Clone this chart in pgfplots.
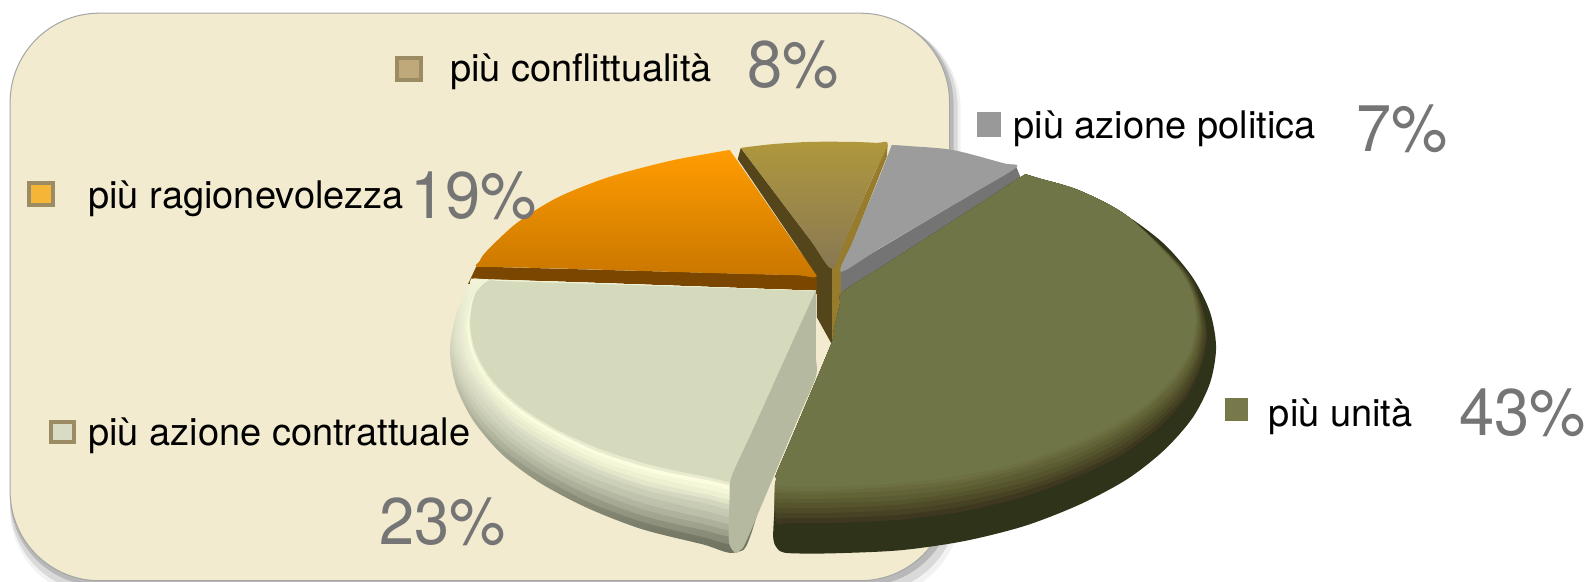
\documentclass[border=0pt]{standalone}
\usepackage{pgfplots}
\pgfplotsset{compat=1.18}
\usepackage{fontspec}
\setmainfont{TeX Gyre Heros}
\definecolor{panel}{HTML}{F2EBCF}
\definecolor{pct}{HTML}{757575}
\newcommand{\lab}[3]{\node[anchor=base west,inner sep=0pt,font=\fontsize{37.5}{37.5}\selectfont,text=black] at (axis cs:#1,#2) {#3};}
\newcommand{\pc}[3]{\node[anchor=base west,inner sep=0pt,xscale=.96,font=\fontsize{65}{65}\selectfont,text=pct] at (axis cs:#1,#2) {#3};}
\newcommand{\gl}[4]{\addplot[draw=none,smooth,fill={rgb,255:red,#1;green,#2;blue,#3}] coordinates {(1012,172)(1025,176)(1065,188)(1112,213) #4 (766,472)(766,468)(780,435)(820,340)(823,325)(829,300)(832,288)(877,259)(967,201)(999,180)(1012,172)};}
\newcommand{\pl}[4]{\addplot[draw=none,smooth,top color={rgb,255:red,242;green,244;blue,218},bottom color={rgb,255:red,#1;green,#2;blue,#3}] coordinates {(805,287) #4 (550,278)(805,287)};}
\newcommand{\plf}[4]{\addplot[draw=none,smooth,fill={rgb,255:red,#1;green,#2;blue,#3}] coordinates {(805,287) #4 (550,279)(805,287)};}
\begin{document}
\begin{tikzpicture}
\useasboundingbox (0,0) rectangle (1568pt,574pt);
\begin{axis}[hide axis,scale only axis,width=1568pt,height=574pt,xmin=0,xmax=1568,ymin=0,ymax=574,y dir=reverse,no markers]
% panel shadow and panel
\addplot[draw=none,fill=black!5,rounded corners=88pt] coordinates {(10,20)(948,20)(948,590)(10,590)} --cycle;
\addplot[draw=none,fill=black!15,rounded corners=88pt] coordinates {(10,18)(945,18)(945,585)(10,585)} --cycle;
\addplot[draw=none,fill=black!28,rounded corners=88pt] coordinates {(10,15)(941,15)(941,578)(10,578)} --cycle;
\addplot[draw={black!35},line width=1pt,fill=panel,rounded corners=88pt] coordinates {(10,13)(937,13)(937,573)(10,573)} --cycle;
% orange 19
\addplot[draw=none,fill={rgb,255:red,122;green,70;blue,0}] coordinates {(470,263)(806,272)(806,290)(462,280)} --cycle;
\addplot[draw=none,smooth,top color={rgb,255:red,255;green,156;blue,0},bottom color={rgb,255:red,200;green,118;blue,0}] coordinates {(720,148)(708,150)(660,159)(600,175)(550,195)(510,220)(480,248)(473,258)(470,263)(490,263.5)(554,265)(722,270)(785,271.5)(806,272)(785,242)(741,178)(720,148)};
% gold 8
\addplot[draw=none,fill={rgb,255:red,84;green,70;blue,26}] coordinates {(731,146)(821,265)(821,340)(806,313)(806,272)(728,157)} --cycle;
\addplot[draw=none,fill={rgb,255:red,150;green,124;blue,44}] coordinates {(876,142)(875,155)(830,268)(830,316)(821,340)(821,265)} --cycle;
\addplot[draw=none,smooth,top color={rgb,255:red,176;green,152;blue,60},bottom color={rgb,255:red,136;green,120;blue,84}] coordinates {(731,146)(742,144.5)(765,142)(800,140)(840,140)(865,141)(876,142)(862,173)(835,234)(821,265)(799,236)(753,175)(731,146)};
% grey 7
\addplot[draw=none,fill={rgb,255:red,116;green,116;blue,116}] coordinates {(1003,165)(1007,175)(830,300)(830,268)} --cycle;
\addplot[draw=none,smooth,fill={rgb,255:red,156;green,156;blue,156}] coordinates {(880,143)(895,144)(940,148)(990,161)(1003,165)(960,191)(873,242)(830,268)(842,237)(868,174)(880,143)};
% pale 23: rim bands from the outer edge inward
\pl{108}{111}{92}{(745,515)(726,545)(693,537)(633,522)(579,501)(532,476)(495,448)(467,415)(450,381)(444,346)(450,311)(463,283)(465,275)(480,275.5)}
\pl{132}{135}{115}{(745,506)(726,536)(694,530)(634,515)(580,495)(534,470)(496,443)(468,411)(452,377)(446,343)(452,308)(464,281)(476,276)}
\pl{154}{157}{136}{(745,498)(725,528)(694,523)(635,509)(582,489)(536,465)(498,438)(470,407)(454,374)(448,340)(454,306)(466,280)(478,276.5)}
\pl{170}{173}{151}{(745,492)(726,522)(694,517)(636,503)(583,483)(538,460)(500,433)(472,403)(456,371)(450,337)(456,304)(468,278)(480,276.5)}
\pl{185}{188}{166}{(745,486)(726,516)(695,511)(637,497)(584,478)(539,455)(502,429)(474,399)(458,368)(452,335)(458,302)(470,277)(482,277)}
\pl{198}{201}{178}{(745,479)(726,509)(696,504)(638,490)(586,472)(540,450)(504,424)(476,394)(460,364)(454,332)(460,300)(472,277)(484,277)}
\pl{210}{213}{188}{(745,472)(727,502)(697,497)(639,484)(587,466)(542,444)(505,419)(478,390)(461,360)(456,329)(461,298)(474,277)(486,277)}
\pl{225}{228}{200}{(745,467)(728,497)(698,492)(640,480)(588,462)(543,440)(506,416)(480,387)(462,358)(458,327)(462,296)(476,277)(488,277.4)}
\plf{238}{240}{210}{(745,462)(728,492)(698,488)(640,475)(589,458)(544,436)(508,412)(481,384)(464,355)(459,325)(464,295)(477,277)(489,277.4)}
\plf{245}{247}{217}{(745,457)(728,487)(698,483)(641,470)(590,454)(545,432)(509,408)(482,381)(466,352)(460,323)(466,294)(478,277)(490,277.4)}
\plf{251}{252}{224}{(745,452)(729,482)(699,478)(642,466)(590,449)(546,428)(510,405)(484,378)(467,350)(462,321)(467,292)(480,277)(492,277.4)}
\plf{232}{235}{206}{(745,448)(729,478)(700,474)(642,462)(591,446)(547,425)(511,402)(484,376)(468,348)(463,319)(468,291)(481,277)(493,277.4)}
\plf{214}{218}{188}{(745,445)(729,475)(700,471)(643,459)(592,443)(548,423)(512,400)(485,374)(469,346)(464,318)(469,290)(482,277)(494,277.4)}
\addplot[draw=none,smooth,fill={rgb,255:red,181;green,185;blue,160}] coordinates {(805,287)(805,310)(805,350)(805,372)(787,414)(753,495)(735,537)(730,543)(726,546)(720,538)(719,525)(720,490)(722,470)(743,424)(784,333)(805,287)};
% green 43: rim bands from the outer edge inward
\addplot[draw=none,smooth,fill={rgb,255:red,47;green,51;blue,26}] coordinates {(1012,172)(1025,176)(1065,188)(1112,213)(1149,241)(1177,274)(1194,308)(1200,343)(1194,378)(1177,412)(1149,444)(1112,473)(1065,498)(1011,519)(951,534)(888,543)(822,546)(782,546)(770,544)(764,536)(763,525)(765,490)(766,472)(766,468)(780,435)(820,340)(823,325)(829,300)(832,288)(877,259)(967,201)(999,180)(1012,172)};
\gl{62}{56}{32}{(1169,266)(1185,298)(1191,330)(1185,362)(1169,394)(1142,423)(1105,450)(1059,472)(1007,491)(948,505)(886,513)(822,516)(779,516)(765,514)}
\gl{70}{66}{36}{(1168,265)(1184,297)(1190,328)(1184,360)(1168,391)(1140,420)(1104,446)(1058,468)(1006,486)(948,500)(886,508)(822,511)(779,511)(765,509)}
\gl{78}{76}{40}{(1166,264)(1182,295)(1188,326)(1182,357)(1166,388)(1139,416)(1102,442)(1057,464)(1005,482)(947,495)(886,503)(822,506)(779,506)(765,504)}
\gl{85}{84}{45}{(1164,263)(1181,294)(1186,324)(1181,354)(1164,385)(1138,412)(1101,438)(1056,460)(1004,478)(946,490)(886,498)(822,501)(779,501)(765,499)}
\gl{92}{92}{50}{(1163,262)(1180,292)(1185,322)(1180,352)(1163,382)(1136,409)(1100,434)(1055,456)(1003,473)(946,486)(885,494)(822,496)(779,496)(765,494)}
\gl{98}{99}{55}{(1162,261)(1178,290)(1184,320)(1178,350)(1162,379)(1135,406)(1099,430)(1054,452)(1002,468)(946,482)(885,489)(822,492)(779,492)(765,490)}
\gl{104}{106}{60}{(1160,260)(1177,289)(1182,318)(1177,347)(1160,376)(1134,402)(1098,427)(1053,447)(1002,464)(945,477)(885,484)(822,487)(779,487)(765,485)}
\gl{108}{112}{66}{(1159,260)(1176,288)(1181,316)(1176,346)(1159,374)(1133,400)(1097,424)(1052,444)(1002,461)(944,474)(884,480)(822,484)(779,484)(765,482)}
\gl{112}{117}{72}{(1158,259)(1175,286)(1180,315)(1175,344)(1158,371)(1132,398)(1096,421)(1052,441)(1001,458)(944,470)(884,477)(822,480)(779,480)(766,478)}
% legend keys
\addplot[draw=none,fill={rgb,255:red,156;green,140;blue,99}] coordinates {(390,55)(417,55)(417,81)(390,81)} --cycle;
\addplot[draw=none,fill={rgb,255:red,191;green,169;blue,122}] coordinates {(394,59)(413,59)(413,77)(394,77)} --cycle;
\addplot[draw=none,fill={rgb,255:red,153;green,153;blue,153}] coordinates {(964,111)(988,111)(988,135)(964,135)} --cycle;
\addplot[draw=none,fill={rgb,255:red,156;green,140;blue,99}] coordinates {(27,179)(54,179)(54,204)(27,204)} --cycle;
\addplot[draw=none,fill={rgb,255:red,245;green,182;blue,56}] coordinates {(31,183)(50,183)(50,200)(31,200)} --cycle;
\addplot[draw=none,fill={rgb,255:red,156;green,140;blue,99}] coordinates {(48,414)(75,414)(75,438)(48,438)} --cycle;
\addplot[draw=none,fill={rgb,255:red,216;green,220;blue,196}] coordinates {(52,418)(71,418)(71,434)(52,434)} --cycle;
\addplot[draw=none,fill={rgb,255:red,120;green,121;blue,74}] coordinates {(1209,393)(1231,393)(1231,415)(1209,415)} --cycle;
% labels
\lab{444}{80}{più conflittualità}
\lab{1000}{137}{più azione politica}
\lab{87}{206}{più ragionevolezza}
\lab{87}{440}{più azione contrattuale}
\lab{1252}{421}{più unità}
\pc{737}{86}{8\%}
\pc{1338}{149}{7\%}
\pc{405}{216}{19\%}
\pc{374}{537}{23\%}
\pc{1440}{430}{43\%}
\end{axis}
\end{tikzpicture}
\end{document}
